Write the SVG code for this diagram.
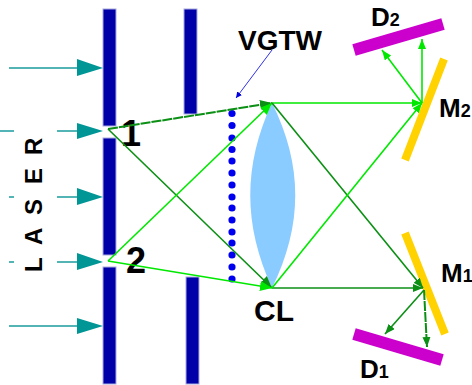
<svg xmlns="http://www.w3.org/2000/svg" width="472" height="385" viewBox="0 0 472 385">
<style>
text{font-family:"Liberation Sans",Arial,sans-serif;font-weight:bold;fill:#000}
.bar{fill:#0000a8;stroke:#a9a9e0;stroke-width:1}
.t{stroke:#1a9c9c;stroke-width:1.3;fill:none}
.lg{stroke:#00e800;stroke-width:1.6;fill:none}
.dg{stroke:#0b8f14;stroke-width:1.6;fill:none}
.dd{stroke:#0b8f14;stroke-width:2;stroke-dasharray:10 1;fill:none}
.h{fill:#009696}
.s{font-size:18px}
</style>
<defs>
<marker id="lgh" viewBox="0 0 10 8" refX="10" refY="4" markerUnits="userSpaceOnUse" markerWidth="10" markerHeight="8" orient="auto"><path d="M0 0L10 4L0 8Z" fill="#00e800"/></marker>
<marker id="dgh" viewBox="0 0 10 8" refX="10" refY="4" markerUnits="userSpaceOnUse" markerWidth="10" markerHeight="8" orient="auto"><path d="M0 0L10 4L0 8Z" fill="#0b8f14"/></marker>
<marker id="dbh" viewBox="0 0 12 10" refX="12" refY="5" markerUnits="userSpaceOnUse" markerWidth="12" markerHeight="10" orient="auto"><path d="M0 0L12 5L0 10Z" fill="#0b8f14"/></marker>
<marker id="lbh" viewBox="0 0 12 10" refX="12" refY="5" markerUnits="userSpaceOnUse" markerWidth="12" markerHeight="10" orient="auto"><path d="M0 0L12 5L0 10Z" fill="#00e800"/></marker>
<marker id="bh" viewBox="0 0 6 6" refX="6" refY="3" markerUnits="userSpaceOnUse" markerWidth="6" markerHeight="6" orient="auto"><path d="M0 0L6 3L0 6Z" fill="#0000e0"/></marker>
</defs>
<g id="screen1">
<rect class="bar" x="103" y="9" width="13" height="117"/>
<rect class="bar" x="103" y="138" width="13" height="117"/>
<rect class="bar" x="103" y="267" width="13" height="117"/>
</g>
<g id="screen2">
<rect class="bar" x="184" y="9" width="13" height="105"/>
<rect class="bar" x="186" y="277" width="13" height="107"/>
</g>
<g id="lens"><path d="M272 103C243 165 243 225 272 288C303 225 303 165 272 103Z" fill="#8accff"/></g>
<g id="vgtw">
<g fill="#0000f0">
<circle cx="232" cy="113.5" r="3.6"/><circle cx="232" cy="125.5" r="3.6"/><circle cx="232" cy="138" r="3.6"/><circle cx="232" cy="149.5" r="3.6"/><circle cx="232" cy="161" r="3.6"/><circle cx="232" cy="173" r="3.6"/><circle cx="232" cy="185" r="3.6"/><circle cx="232" cy="197" r="3.6"/><circle cx="232" cy="208" r="3.6"/><circle cx="232" cy="220" r="3.6"/><circle cx="232" cy="232" r="3.6"/><circle cx="232" cy="243" r="3.6"/><circle cx="232" cy="255" r="3.6"/><circle cx="232" cy="267" r="3.6"/><circle cx="232" cy="279" r="3.6"/>
</g>
<text x="238" y="50" font-size="28">VGTW</text>
</g>
<g id="mirror-m2"><line x1="444" y1="59" x2="405" y2="160" stroke="#ffd200" stroke-width="8"/><text x="439" y="117" font-size="26">M<tspan class="s">2</tspan></text></g>
<g id="mirror-m1"><line x1="405" y1="233" x2="445" y2="334" stroke="#ffd200" stroke-width="8"/><text x="441" y="282" font-size="26">M<tspan class="s">1</tspan></text></g>
<g id="detector-d2"><line x1="354" y1="50" x2="443" y2="24" stroke="#cc00cc" stroke-width="12"/><text x="371" y="26" font-size="26">D<tspan class="s">2</tspan></text></g>
<g id="detector-d1"><line x1="354" y1="334" x2="442" y2="360" stroke="#cc00cc" stroke-width="12"/><text x="360" y="378" font-size="26">D<tspan class="s">1</tspan></text></g>
<g id="labels">
<text x="121" y="146" font-size="36">1</text>
<text x="126" y="273" font-size="36">2</text>
<text x="254" y="321" font-size="30">CL</text>
<g font-size="24">
<text transform="translate(42,272) rotate(-90)">L</text>
<text transform="translate(42,245) rotate(-90)">A</text>
<text transform="translate(42,215) rotate(-90)">S</text>
<text transform="translate(42,184) rotate(-90)">E</text>
<text transform="translate(42,155) rotate(-90)">R</text>
</g>
</g>
<g id="connectors">
<path class="t" d="M9 68H78M0 131H14M57 131H78M9 197H14M57 197H78M9 262H14M57 262H78M9 326H78"/>
<path class="h" d="M77 59L103 68L77 76ZM77 123L103 131L77 139ZM77 188L103 197L77 205ZM77 253L103 262L77 270ZM77 318L103 326L77 334Z"/>
<path class="dd" d="M108 129L272 103" marker-end="url(#dbh)"/>
<path class="dg" d="M108 129L272 288" marker-end="url(#dbh)"/>
<path class="lg" d="M108 261L272 103" marker-end="url(#lbh)"/>
<path class="lg" d="M108 261L272 288" marker-end="url(#lbh)"/>
<path class="lg" d="M272 103H422" marker-end="url(#lgh)"/>
<path class="dg" d="M272 288H423" marker-end="url(#dgh)"/>
<path class="dg" d="M272 103L423 288" marker-end="url(#dgh)"/>
<path class="lg" d="M272 288L422 103" marker-end="url(#lgh)"/>
<path class="lg" d="M422 103L382 50" marker-end="url(#lgh)"/>
<path class="lg" d="M422 103V39" marker-end="url(#lgh)"/>
<path class="dg" d="M424 290L385 334" marker-end="url(#dgh)"/>
<path class="dd" d="M424 290L427 347" marker-end="url(#dgh)"/>
<path d="M272 50L236 98" stroke="#3030e8" stroke-width="1" fill="none" marker-end="url(#bh)"/>
</g>
</svg>
